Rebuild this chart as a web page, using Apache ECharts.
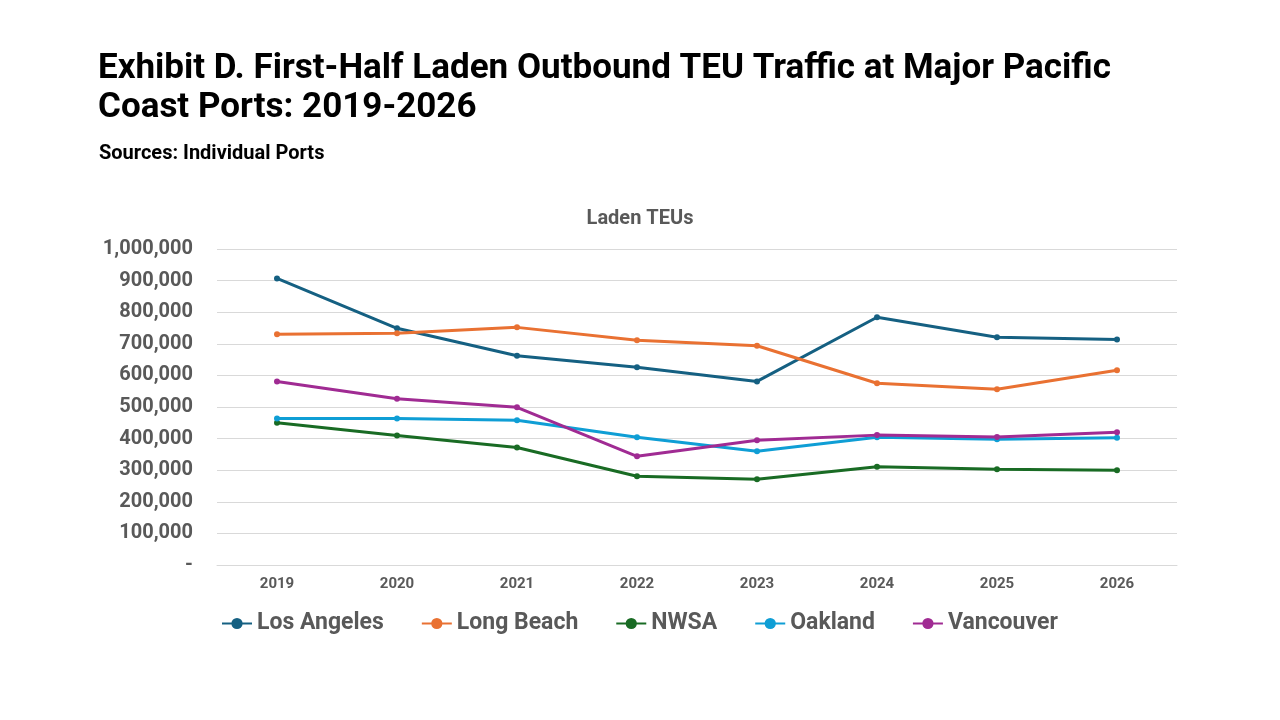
<!DOCTYPE html>
<html>
<head>
<meta charset="utf-8">
<script src="https://cdn.jsdelivr.net/npm/echarts@6/dist/echarts.min.js"></script>
<style>
  html, body { margin: 0; padding: 0; background: #fff; }
  #chart { width: 1280px; height: 720px; }
</style>
</head>
<body>
<div id="chart"></div>
<script>
var years = ['2019', '2020', '2021', '2022', '2023', '2024', '2025', '2026'];

var losAngeles = [907000, 749000, 662000, 626000, 581000, 784000, 721000, 714000];
var longBeach  = [730000, 733000, 752000, 711000, 694000, 575000, 556000, 616000];
var nwsa       = [450000, 410000, 372000, 281000, 271000, 311000, 303000, 300000];
var oakland    = [464000, 464000, 458000, 404000, 360000, 404000, 398000, 403000];
var vancouver  = [581000, 526000, 499000, 344000, 395000, 411000, 405000, 420000];

var seriesNames  = ['Los Angeles', 'Long Beach', 'NWSA', 'Oakland', 'Vancouver'];
var seriesData   = [losAngeles, longBeach, nwsa, oakland, vancouver];
var seriesColors = ['#156082', '#E97132', '#196B24', '#0F9ED5', '#A02B93'];

window.onload = function() {
	drawChart();
};

function drawChart() {
	var c = echarts.init(document.getElementById('chart'));

	var series = seriesNames.map(function(name, i) {
		return {
			name: name,
			type: 'line',
			data: seriesData[i],
			symbol: 'circle',
			symbolSize: 6,
			lineStyle: { width: 3, color: seriesColors[i] },
			itemStyle: { color: seriesColors[i] }
		};
	});

	var e = {
		color: seriesColors,
		animation: false,
		title: [
			{
				text: 'Exhibit D. First-Half Laden Outbound TEU Traffic at Major Pacific\nCoast Ports: 2019-2026',
				left: 93,
				top: 45,
				textStyle: {
					fontFamily: 'Roboto',
					fontWeight: 'bold',
					fontSize: 35,
					lineHeight: 39,
					color: '#000'
				}
			},
			{
				text: 'Sources: Individual Ports',
				left: 94,
				top: 139,
				textStyle: {
					fontFamily: 'Roboto',
					fontWeight: 'bold',
					fontSize: 20,
					color: '#000'
				}
			},
			{
				text: 'Laden TEUs',
				left: 'center',
				top: 204,
				textStyle: {
					fontFamily: 'Roboto',
					fontWeight: 'bold',
					fontSize: 20,
					color: '#595959'
				}
			}
		],
		legend: {
			data: seriesNames,
			top: 607,
			left: 216,
			itemWidth: 30,
			itemHeight: 14,
			itemGap: 37,
			textStyle: {
				fontFamily: 'Roboto',
				fontWeight: 'bold',
				fontSize: 23,
				color: '#595959'
			}
		},
		grid: {
			left: 217,
			right: 103,
			top: 249,
			bottom: 155,
			containLabel: false
		},
		xAxis: {
			type: 'category',
			data: years,
			boundaryGap: true,
			axisLine: { lineStyle: { color: '#d9d9d9', width: 1 } },
			axisTick: { show: false },
			axisLabel: {
				fontFamily: 'Roboto',
				fontWeight: 'bold',
				fontSize: 15,
				color: '#595959',
				margin: 12
			}
		},
		yAxis: {
			type: 'value',
			min: 0,
			max: 1000000,
			interval: 100000,
			axisLine: { show: false },
			axisTick: { show: false },
			splitLine: { lineStyle: { color: '#d9d9d9', width: 1 } },
			axisLabel: {
				fontFamily: 'Roboto',
				fontWeight: 'bold',
				fontSize: 20,
				color: '#595959',
				margin: 24,
				formatter: function(v) {
					if (v === 0) return '-';
					return v.toLocaleString('en-US');
				}
			}
		},
		series: series
	};
	c.setOption(e);
}
</script>
</body>
</html>
